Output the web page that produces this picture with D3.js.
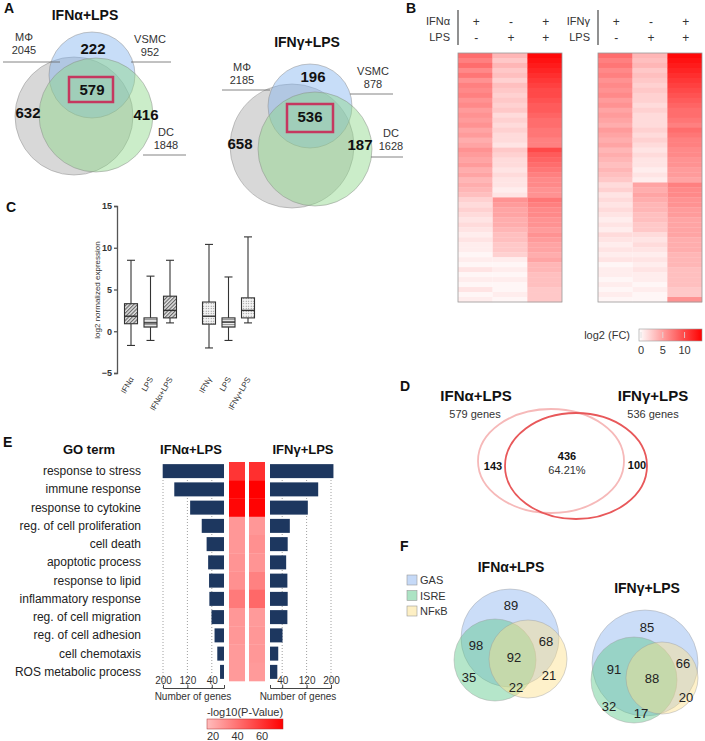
<!DOCTYPE html>
<html lang="en">
<head>
<meta charset="utf-8">
<title>IFN + LPS figure</title>
<script src="https://cdn.jsdelivr.net/npm/d3@7"></script>
<style>
  body { margin: 0; background: #fff; }
  svg { font-family: Arial, "Liberation Sans", Helvetica, sans-serif; }
</style>
</head>
<body>
<div id="fig"></div>
<script>
// ---- panel A
const vennTitles = ["IFNα+LPS", "IFNγ+LPS"];
const cellTypes = ["MΦ", "VSMC", "DC"];
const cellTotals = [[2045, 952, 1848], [2185, 878, 1628]];
const vennCounts = [[632, 222, 416, 579], [658, 196, 187, 536]]; // MΦ, VSMC, DC, shared

// ---- panel B  (rows: [IFN, LPS, IFN+LPS] log2 FC)
const heatTreat = [["IFNα", "LPS"], ["IFNγ", "LPS"]];
const heatSigns = [["+", "-", "+"], ["-", "+", "+"]];
const heatAlpha = [
  [8,4,13.5],[7,3,13],[8,4,12.5],[6.5,3,12],[7.5,3.5,11.5],[6,2.5,11],[7,3.5,10.5],[6.5,3,10],
  [7,2.5,10],[6,3,9.5],[6.5,2.5,9],[5.5,3,9],[6,2,8.5],[5.5,2.5,8],[6,2,8],[5,2.5,7.5],
  [5.5,2,7.5],[4.5,2,7],[5,1.5,7],
  [6,3,10],[5.5,2.5,9],[5,2,8.5],[5.5,2,8],[4.5,1.5,7.5],[5,2,7],[4,1.5,6.5],[4.5,1.5,6.5],
  [4,1,6],[3.5,1.5,6],
  [2.5,6,7.5],[2,5.5,7],[2.5,5,6.5],[2,5,6.5],[1.5,4.5,6],[2,4.5,6],[1.5,4,5.5],
  [1,3.5,6],[1.5,3.5,5.5],[1,3,5],[1,3,5],[0.5,2.5,4.5],
  [1,1,5],[0.5,0.5,4],[1.5,1,4],[0.5,0.5,3.5],[1,1,3.5],[0.5,0.5,3.5],[1.5,0.5,3],[0.5,1,3],[1,0.5,3]
];
const heatGamma = [
  [8,4,13.5],[7,3.5,13],[7.5,4,12.5],[6.5,3,12],[7,3.5,11.5],[6,3,11],[6.5,2.5,10.5],[6,3,10],
  [6.5,2.5,9.5],[5.5,2.5,9],[6,2,8.5],[5,2.5,8],[5.5,2,8],[5,2,7.5],[4.5,2,7],
  [5.5,2.5,8],[5,2,7.5],[4.5,2.5,7],[5,2,7],[4,1.5,6.5],[4.5,2,6.5],[4,1.5,6],[3.5,1.5,6],
  [4,1,5.5],[3.5,1.5,5.5],[3,1,5],
  [2,5,7],[2.5,4.5,6.5],[1.5,5,6.5],[2,4.5,6],[1.5,4,6],[2,4,5.5],[1.5,3.5,5.5],[1,3.5,5],
  [1.5,3,5],[1,3,5],
  [2,2,5],[1.5,1.5,4.5],[1,2,4.5],[1.5,1.5,4.5],[1,1,4],[1.5,1.5,4],[0.5,1,4],[1,1.5,3.5],
  [1,1,3.5],[0.5,1,3.5],[1,0.5,3.5],[0.5,1,3],[1,0.5,3],[0.5,0.5,6]
];
const fcTicks = [0, 5, 10];

// ---- panel C  ([min, q1, median, q3, max])
const boxLabels = ["IFNα", "LPS", "IFNα+LPS", "IFNγ", "LPS", "IFNγ+LPS"];
const boxStats = [
  [-1.7, 0.9, 1.8, 3.3, 8.5],
  [-1.1, 0.5, 1.0, 1.6, 6.6],
  [1.0, 1.6, 2.5, 4.2, 8.5],
  [-2.0, 0.85, 1.8, 3.5, 10.4],
  [-1.1, 0.5, 1.1, 1.6, 6.5],
  [1.0, 1.6, 2.5, 4.0, 11.3]
];
const exprTicks = [-5, 0, 5, 10, 15];

// ---- panel D
const overlapNames = ["IFNα+LPS", "IFNγ+LPS"];
const overlapGenes = [579, 536];
const overlapParts = [143, 436, 100];
const overlapPct = "64.21%";

// ---- panel E
const goTerms = ["response to stress", "immune response", "response to cytokine",
  "reg. of cell proliferation", "cell death", "apoptotic process", "response to lipid",
  "inflammatory response", "reg. of cell migration", "reg. of cell adhesion",
  "cell chemotaxis", "ROS metabolic process"];
const goAlpha = [201, 163, 111, 73, 57, 52, 49, 48, 41, 31, 22, 13];
const goGamma = [208, 158, 124, 65, 58, 53, 57, 58, 57, 41, 27, 24];
const pAlpha = [58, 74, 73, 27, 27, 28, 29, 36, 27, 27, 26, 26];
const pGamma = [60, 75, 74, 27, 29, 28, 34, 42, 26, 27, 27, 26];
const geneTicks = [200, 120, 40];
const pTicks = [20, 40, 60];

// ---- panel F  (GAS, GAS∩ISRE, GAS∩NFκB, all, ISRE, NFκB, ISRE∩NFκB)
const tfNames = ["GAS", "ISRE", "NFκB"];
const tfAlpha = [89, 98, 68, 92, 35, 21, 22];
const tfGamma = [85, 91, 66, 88, 32, 20, 17];


const svg = d3.select("#fig").append("svg")
  .attr("width", 705)
  .attr("height", 741);

const defs = svg.append("defs");

function txt(g, x, y, s, size, opts) {
  opts = opts || {};
  return g.append("text")
    .attr("x", x).attr("y", y)
    .attr("font-size", size)
    .attr("font-weight", opts.bold ? "bold" : null)
    .attr("text-anchor", opts.anchor || "middle")
    .attr("fill", opts.fill || "#111")
    .text(s);
}

// panel letters
[["A", 4, 13], ["B", 406, 13], ["C", 6, 212], ["D", 400, 391], ["E", 3, 447], ["F", 400, 551]]
  .forEach(d => txt(svg, d[1], d[2], d[0], 14, {bold: true, anchor: "start"}));

// ================= A =================
const vennLayout = [
  {title: [85, 20],
   circles: [[74, 116, 59], [92, 75, 43], [96, 115, 57]],
   labels: [[24, 41, 3, 60, 62], [150, 43, 131, 171, 62], [166, 136, 143, 186, 155]],
   nums: [[28, 118], [93, 54], [146, 120], [92, 95]],
   box: [69, 77, 44, 25]},
  {title: [307, 47],
   circles: [[292, 146, 62], [310, 106, 42], [315, 149, 57]],
   labels: [[242, 71, 222, 270, 90], [373, 75, 350, 393, 94], [391, 137, 371, 403, 157]],
   nums: [[240, 149], [313, 82], [360, 150], [310, 122]],
   box: [287, 104, 46, 28]}
];
const vennFills = ["#a8a8a8", "#82b4f0", "#8cd787"];

vennLayout.forEach((L, k) => {
  const g = svg.append("g");
  txt(g, L.title[0], L.title[1], vennTitles[k], 14, {bold: true});
  g.selectAll("circle").data(L.circles).enter().append("circle")
    .attr("cx", d => d[0]).attr("cy", d => d[1]).attr("r", d => d[2])
    .attr("fill", (d, i) => vennFills[i])
    .attr("fill-opacity", 0.45)
    .attr("stroke", "#8a8a8a")
    .attr("stroke-opacity", 0.6)
    .attr("stroke-width", 0.8);
  L.labels.forEach((p, i) => {
    txt(g, p[0], p[1], cellTypes[i], 11, {fill: "#333"});
    txt(g, p[0], p[1] + 13, cellTotals[k][i], 11, {fill: "#333"});
    g.append("line").attr("x1", p[2]).attr("x2", p[3]).attr("y1", p[4]).attr("y2", p[4])
      .attr("stroke", "#666").attr("stroke-width", 0.8);
  });
  L.nums.forEach((p, i) => txt(g, p[0], p[1], vennCounts[k][i], 15, {bold: true}));
  g.append("rect").attr("x", L.box[0]).attr("y", L.box[1])
    .attr("width", L.box[2]).attr("height", L.box[3])
    .attr("fill", "none").attr("stroke", "#c5375f").attr("stroke-width", 2.5);
});

// ================= B =================
const fcColor = d3.scaleLinear().domain([0, 14]).range(["#ffffff", "#ff0000"]);
const heatY0 = 53, heatY1 = 302;
[[heatAlpha, 458, 562], [heatGamma, 598, 702]].forEach((h, k) => {
  const rows = h[0];
  const g = svg.append("g");
  const x = d3.scaleBand().domain([0, 1, 2]).range([h[1], h[2]]);
  const y = d3.scaleBand().domain(d3.range(rows.length)).range([heatY0, heatY1]);
  rows.forEach((r, i) => {
    g.selectAll(null).data(r).enter().append("rect")
      .attr("x", (d, j) => x(j)).attr("y", y(i))
      .attr("width", x.bandwidth()).attr("height", y.bandwidth() + 0.3)
      .attr("fill", d => fcColor(d));
  });
  g.append("rect").attr("x", h[1]).attr("y", heatY0)
    .attr("width", h[2] - h[1]).attr("height", heatY1 - heatY0)
    .attr("fill", "none").attr("stroke", "#999").attr("stroke-width", 0.8);

  // treatment header
  const lx = h[1];
  txt(g, lx - 8, 25, heatTreat[k][0], 11, {anchor: "end", fill: "#333"});
  txt(g, lx - 8, 41, heatTreat[k][1], 11, {anchor: "end", fill: "#333"});
  g.append("line").attr("x1", lx).attr("x2", lx).attr("y1", 10).attr("y2", 45)
    .attr("stroke", "#555").attr("stroke-width", 1.3);
  heatSigns.forEach((row, r) => row.forEach((s, j) =>
    txt(g, x(j) + x.bandwidth() / 2 + 1, 26 + r * 16, s, 12, {fill: "#333"})));
});

// colour bar
{
  const g = svg.append("g");
  const xs = d3.scaleLinear().domain([0, 14]).range([641, 702]);
  const gr = defs.append("linearGradient").attr("id", "fcGrad");
  gr.append("stop").attr("offset", "0%").attr("stop-color", fcColor(0));
  gr.append("stop").attr("offset", "100%").attr("stop-color", fcColor(14));
  txt(g, 630, 339, "log2 (FC)", 11, {anchor: "end", fill: "#333"});
  g.append("rect").attr("x", 639).attr("y", 329).attr("width", 63).attr("height", 12)
    .attr("fill", "url(#fcGrad)").attr("stroke", "#999").attr("stroke-width", 0.6);
  fcTicks.forEach(t => {
    g.append("line").attr("x1", xs(t)).attr("x2", xs(t)).attr("y1", 332).attr("y2", 338)
      .attr("stroke", "#ddd").attr("stroke-width", 0.8);
    txt(g, xs(t), 354, t, 11, {fill: "#333"});
  });
}

// ================= C =================
{
  const g = svg.append("g");
  const y = d3.scaleLinear().domain([-5, 15]).range([373, 206]);
  const x = d3.scaleLinear().domain([0, 6]).range([131, 248]);
  const slot = [0, 1, 2, 4, 5, 6];
  const bw = 13;

  const hatch = defs.append("pattern").attr("id", "hatch")
    .attr("patternUnits", "userSpaceOnUse").attr("width", 2.6).attr("height", 2.6)
    .attr("patternTransform", "rotate(45)");
  hatch.append("rect").attr("width", 2.6).attr("height", 2.6).attr("fill", "#e4e4e4");
  hatch.append("line").attr("x1", 0.6).attr("x2", 0.6).attr("y1", 0).attr("y2", 2.6)
    .attr("stroke", "#555").attr("stroke-width", 1);
  const hl = defs.append("pattern").attr("id", "hlines")
    .attr("patternUnits", "userSpaceOnUse").attr("width", 3).attr("height", 2.4);
  hl.append("rect").attr("width", 3).attr("height", 2.4).attr("fill", "#eee");
  hl.append("line").attr("x1", 0).attr("x2", 3).attr("y1", 0.5).attr("y2", 0.5)
    .attr("stroke", "#777").attr("stroke-width", 0.8);
  const dots = defs.append("pattern").attr("id", "dots")
    .attr("patternUnits", "userSpaceOnUse").attr("width", 2.5).attr("height", 2.5);
  dots.append("rect").attr("width", 2.5).attr("height", 2.5).attr("fill", "#f4f4f4");
  dots.append("circle").attr("cx", 1.2).attr("cy", 1.2).attr("r", 0.55).attr("fill", "#777");
  const fills = ["url(#hatch)", "url(#hlines)", "url(#hatch)", "url(#dots)", "url(#hlines)", "url(#dots)"];

  const ax = g.append("g").attr("transform", "translate(117,0)")
    .call(d3.axisLeft(y).tickValues(exprTicks).tickSize(3).tickPadding(2));
  ax.select(".domain").attr("stroke", "#555").attr("stroke-width", 1.3);
  ax.selectAll(".tick line").attr("stroke", "#555").attr("stroke-width", 1.3);
  ax.selectAll("text").attr("font-size", 9).attr("font-weight", "bold").attr("fill", "#333")
    .attr("font-family", null);

  g.append("text").attr("transform", "translate(100,290) rotate(-90)")
    .attr("text-anchor", "middle").attr("font-size", 8).attr("fill", "#333")
    .text("log2 normalized expression");

  boxStats.forEach((s, i) => {
    const cx = x(slot[i]);
    const b = g.append("g").attr("stroke", "#333").attr("stroke-width", 1.1);
    b.append("line").attr("x1", cx).attr("x2", cx).attr("y1", y(s[4])).attr("y2", y(s[3]));
    b.append("line").attr("x1", cx).attr("x2", cx).attr("y1", y(s[1])).attr("y2", y(s[0]));
    b.append("line").attr("x1", cx - 4).attr("x2", cx + 4).attr("y1", y(s[4])).attr("y2", y(s[4]));
    b.append("line").attr("x1", cx - 4).attr("x2", cx + 4).attr("y1", y(s[0])).attr("y2", y(s[0]));
    b.append("rect").attr("x", cx - bw / 2).attr("y", y(s[3]))
      .attr("width", bw).attr("height", y(s[1]) - y(s[3]))
      .attr("fill", fills[i]);
    b.append("line").attr("x1", cx - bw / 2).attr("x2", cx + bw / 2)
      .attr("y1", y(s[2])).attr("y2", y(s[2])).attr("stroke-width", 1.4);
    g.append("text")
      .attr("transform", `translate(${cx + 3},${379}) rotate(-60)`)
      .attr("text-anchor", "end").attr("font-size", 8).attr("fill", "#333")
      .text(boxLabels[i]);
  });
}

// ================= D =================
{
  const g = svg.append("g");
  g.append("ellipse").attr("cx", 551).attr("cy", 461).attr("rx", 73).attr("ry", 52)
    .attr("fill", "none").attr("stroke", "#f6b9b9").attr("stroke-width", 1.8);
  g.append("ellipse").attr("cx", 576).attr("cy", 466).attr("rx", 71).attr("ry", 53)
    .attr("fill", "none").attr("stroke", "#e8585a").attr("stroke-width", 1.8);
  txt(g, 476, 401, overlapNames[0], 15, {bold: true});
  txt(g, 475, 418, overlapGenes[0] + " genes", 11, {fill: "#333"});
  txt(g, 653, 401, overlapNames[1], 15, {bold: true});
  txt(g, 653, 418, overlapGenes[1] + " genes", 11, {fill: "#333"});
  txt(g, 493, 470, overlapParts[0], 11, {bold: true});
  txt(g, 567, 460, overlapParts[1], 11, {bold: true});
  txt(g, 567, 474, overlapPct, 11, {fill: "#333"});
  txt(g, 637, 469, overlapParts[2], 11, {bold: true});
}

// ================= E =================
{
  const g = svg.append("g");
  const y = d3.scaleBand().domain(goTerms).range([462, 681]);
  const xl = d3.scaleLinear().domain([0, 200]).range([224, 163]);
  const xr = d3.scaleLinear().domain([0, 200]).range([270, 331]);
  const pColor = d3.scaleLinear().domain([10, 75]).range(["#ffcccc", "#ff0000"]).clamp(true);
  const barH = 14;

  txt(g, 89, 454, "GO term", 13, {bold: true});
  txt(g, 191, 454, "IFNα+LPS", 13, {bold: true});
  txt(g, 303, 454, "IFNγ+LPS", 13, {bold: true});

  // dotted grid
  geneTicks.forEach(t => {
    [xl(t), xr(t)].forEach(px => g.append("line")
      .attr("x1", px).attr("x2", px).attr("y1", 480).attr("y2", 688)
      .attr("stroke", "#888").attr("stroke-width", 0.8).attr("stroke-dasharray", "1,2"));
  });

  g.selectAll(".lab").data(goTerms).enter().append("text")
    .attr("x", 141).attr("y", d => y(d) + y.bandwidth() / 2 + 4)
    .attr("text-anchor", "end").attr("font-size", 12).attr("fill", "#222")
    .text(d => d);

  g.selectAll(".barl").data(goAlpha).enter().append("rect")
    .attr("x", d => xl(d)).attr("width", d => xl(0) - xl(d))
    .attr("y", (d, i) => y(goTerms[i]) + (y.bandwidth() - barH) / 2).attr("height", barH)
    .attr("fill", "#1d375f");
  g.selectAll(".barr").data(goGamma).enter().append("rect")
    .attr("x", xr(0)).attr("width", d => xr(d) - xr(0))
    .attr("y", (d, i) => y(goTerms[i]) + (y.bandwidth() - barH) / 2).attr("height", barH)
    .attr("fill", "#1d375f");

  [[pAlpha, 229], [pGamma, 249]].forEach(c => {
    g.selectAll(null).data(c[0]).enter().append("rect")
      .attr("x", c[1]).attr("width", 16)
      .attr("y", (d, i) => y(goTerms[i])).attr("height", y.bandwidth() + 0.3)
      .attr("fill", d => pColor(d));
  });

  [[xl, 193], [xr, 298]].forEach(a => {
    const ax = g.append("g").attr("transform", "translate(0,688)")
      .call(d3.axisTop(a[0]).tickValues(geneTicks).tickSize(3).tickSizeOuter(3).tickPadding(1));
    ax.select(".domain").attr("stroke", "#444");
    ax.selectAll(".tick line").attr("stroke", "#444");
    ax.selectAll("text").attr("font-size", 10).attr("fill", "#333").attr("font-family", null);
    txt(g, a[1], 700, "Number of genes", 10, {fill: "#333"});
  });

  // p-value legend
  const xs = d3.scaleLinear().domain([20, 60]).range([213, 262]);
  const gr = defs.append("linearGradient").attr("id", "pGrad");
  gr.append("stop").attr("offset", "0%").attr("stop-color", pColor(xs.invert(207)));
  gr.append("stop").attr("offset", "100%").attr("stop-color", pColor(xs.invert(283)));
  txt(g, 245, 716, "-log10(P-Value)", 11, {fill: "#333"});
  g.append("rect").attr("x", 207).attr("y", 719).attr("width", 76).attr("height", 10)
    .attr("fill", "url(#pGrad)").attr("stroke", "#a33").attr("stroke-width", 0.5);
  pTicks.forEach(t => txt(g, xs(t), 740, t, 11, {fill: "#333"}));
}

// ================= F =================
{
  const g = svg.append("g");
  const tfFills = ["#8cb4f0", "#5ac88a", "#fcdf8a"];
  tfNames.forEach((n, i) => {
    g.append("rect").attr("x", 407).attr("y", 575 + i * 15.5).attr("width", 10).attr("height", 10)
      .attr("fill", tfFills[i]).attr("fill-opacity", 0.5).attr("stroke", "#999").attr("stroke-width", 0.6);
    txt(g, 420, 584 + i * 15.5, n, 11, {anchor: "start", fill: "#333"});
  });

  const layout = [
    {title: [511, 572], circles: [[510, 638, 49], [495, 660, 41], [528, 659, 39]],
     nums: [[511, 610], [476, 650], [546, 646], [514, 662], [469, 682], [549, 680], [516, 692]]},
    {title: [647, 593], circles: [[645, 663, 53], [634, 680, 43], [662, 678, 36]],
     nums: [[647, 632], [614, 674], [683, 668], [652, 683], [609, 711], [686, 702], [641, 718]]}
  ];
  [tfAlpha, tfGamma].forEach((vals, k) => {
    const L = layout[k];
    txt(g, L.title[0], L.title[1], vennTitles[k], 14, {bold: true});
    g.selectAll(null).data(L.circles).enter().append("circle")
      .attr("cx", d => d[0]).attr("cy", d => d[1]).attr("r", d => d[2])
      .attr("fill", (d, i) => tfFills[i]).attr("fill-opacity", 0.45)
      .attr("stroke", "#999").attr("stroke-opacity", 0.6).attr("stroke-width", 0.7);
    L.nums.forEach((p, i) => txt(g, p[0], p[1], vals[i], 13, {fill: "#222"}));
  });
}
</script>
</body>
</html>
